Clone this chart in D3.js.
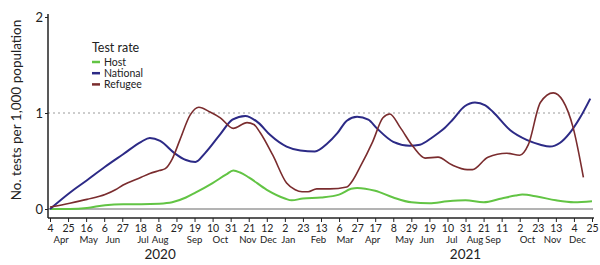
<!DOCTYPE html>
<html>
<head>
<meta charset="utf-8">
<script src="https://cdn.jsdelivr.net/npm/d3@7"></script>
<style>
  html, body { margin: 0; padding: 0; background: #fff; }
  #chart { width: 600px; height: 265px; }
  text { font-family: Lato, "Open Sans", sans-serif; fill: #222; }
</style>
</head>
<body>
<div id="chart"></div>
<script>
"use strict";

const tickDates = [
  "2020-04-04", "2020-04-25", "2020-05-16", "2020-06-06", "2020-06-27",
  "2020-07-18", "2020-08-08", "2020-08-29", "2020-09-19", "2020-10-10",
  "2020-10-31", "2020-11-21", "2020-12-12", "2021-01-02", "2021-01-23",
  "2021-02-13", "2021-03-06", "2021-03-27", "2021-04-17", "2021-05-08",
  "2021-05-29", "2021-06-19", "2021-07-10", "2021-07-31", "2021-08-21",
  "2021-09-11", "2021-10-02", "2021-10-23", "2021-11-13", "2021-12-04",
  "2021-12-25",
];

// month label, and the date it sits under
const monthLabels = [
  ["Apr", "2020-04-17"], ["May", "2020-05-19"], ["Jun", "2020-06-16"],
  ["Jul", "2020-07-21"], ["Aug", "2020-08-10"], ["Sep", "2020-09-19"],
  ["Oct", "2020-10-19"], ["Nov", "2020-11-20"], ["Dec", "2020-12-14"],
  ["Jan", "2021-01-06"], ["Feb", "2021-02-10"], ["Mar", "2021-03-13"],
  ["Apr", "2021-04-14"], ["May", "2021-05-21"], ["Jun", "2021-06-16"],
  ["Jul", "2021-07-15"], ["Aug", "2021-08-11"], ["Sep", "2021-09-01"],
  ["Oct", "2021-10-11"], ["Nov", "2021-11-09"], ["Dec", "2021-12-08"],
];

const yearLabels = [["2020", "2020-08-10"], ["2021", "2021-07-31"]];

const yTicks = [0, 1, 2];

const nationalDates = [
  "2020-04-04", "2020-04-27", "2020-05-17", "2020-06-07", "2020-06-28",
  "2020-07-19", "2020-07-29", "2020-08-10", "2020-08-27", "2020-09-09",
  "2020-09-20", "2020-10-01", "2020-10-19", "2020-11-02", "2020-11-17",
  "2020-12-02", "2020-12-16", "2021-01-04", "2021-01-20", "2021-02-06",
  "2021-02-20", "2021-03-04", "2021-03-15", "2021-03-27", "2021-04-09",
  "2021-04-19", "2021-05-08", "2021-05-27", "2021-06-08", "2021-06-23",
  "2021-07-05", "2021-07-16", "2021-07-30", "2021-08-11", "2021-08-23",
  "2021-09-01", "2021-09-21", "2021-10-10", "2021-10-26", "2021-11-06",
  "2021-11-18", "2021-11-29", "2021-12-11", "2021-12-23",
];
const nationalValues = [
  0.0, 0.17, 0.3, 0.44, 0.57,
  0.7, 0.74, 0.71, 0.58, 0.51,
  0.49, 0.58, 0.78, 0.93, 0.97,
  0.9, 0.77, 0.65, 0.61, 0.6,
  0.68, 0.79, 0.92, 0.96, 0.93,
  0.84, 0.7, 0.66, 0.67, 0.75,
  0.83, 0.93, 1.07, 1.11, 1.08,
  1.01, 0.82, 0.72, 0.67, 0.65,
  0.69, 0.79, 0.95, 1.15,
];

const refugeeDates = [
  "2020-04-04", "2020-04-27", "2020-05-17", "2020-06-07", "2020-06-19",
  "2020-06-28", "2020-07-19", "2020-07-29", "2020-08-09", "2020-08-16",
  "2020-08-24", "2020-09-02", "2020-09-14", "2020-09-24", "2020-10-07",
  "2020-10-19", "2020-11-03", "2020-11-19", "2020-11-27", "2020-12-04",
  "2020-12-19", "2021-01-04", "2021-01-14", "2021-01-22", "2021-01-29",
  "2021-02-08", "2021-02-23", "2021-03-15", "2021-03-22", "2021-03-30",
  "2021-04-14", "2021-04-26", "2021-05-04", "2021-05-16", "2021-05-31",
  "2021-06-14", "2021-06-29", "2021-07-15", "2021-08-02", "2021-08-08",
  "2021-08-26", "2021-09-17", "2021-10-02", "2021-10-12", "2021-10-26",
  "2021-11-10", "2021-11-21", "2021-12-03", "2021-12-15",
];
const refugeeValues = [
  0.02, 0.06, 0.1, 0.15, 0.2,
  0.25, 0.33, 0.37, 0.4, 0.42,
  0.52, 0.72, 0.98, 1.06, 1.01,
  0.95, 0.84, 0.9, 0.88, 0.8,
  0.56, 0.27, 0.2, 0.18, 0.18,
  0.21, 0.21, 0.23, 0.3, 0.43,
  0.7, 0.95, 0.99, 0.85, 0.65,
  0.53, 0.54, 0.46, 0.41, 0.41,
  0.54, 0.58, 0.56, 0.67, 1.11,
  1.21, 1.13, 0.85, 0.33,
];

const hostDates = [
  "2020-04-04", "2020-04-27", "2020-05-17", "2020-06-07", "2020-06-28",
  "2020-07-19", "2020-08-09", "2020-08-24", "2020-09-09", "2020-09-20",
  "2020-10-10", "2020-10-26", "2020-11-03", "2020-11-11", "2020-11-21",
  "2020-12-12", "2021-01-02", "2021-01-10", "2021-01-23", "2021-02-13",
  "2021-03-06", "2021-03-20", "2021-03-27", "2021-04-17", "2021-05-08",
  "2021-05-29", "2021-06-19", "2021-07-10", "2021-07-31", "2021-08-21",
  "2021-09-11", "2021-09-27", "2021-10-05", "2021-10-22", "2021-11-13",
  "2021-12-04", "2021-12-25",
];
const hostValues = [
  0.0, 0.0, 0.01, 0.04, 0.05,
  0.05, 0.055, 0.07, 0.12, 0.17,
  0.27, 0.36, 0.4, 0.38, 0.33,
  0.2, 0.11, 0.09, 0.11, 0.12,
  0.15, 0.21, 0.22, 0.19, 0.12,
  0.07, 0.06, 0.08, 0.09, 0.07,
  0.11, 0.14, 0.15, 0.13, 0.09,
  0.07, 0.08,
];

const seriesNames = ["Host", "National", "Refugee"];
const seriesColors = ["#62c444", "#2c2a86", "#7a2c2e"];

const parse = d3.timeParse("%Y-%m-%d");

function draw() {
  const w = 600;
  const h = 265;

  const svg = d3
    .select("#chart")
    .append("svg")
    .attr("width", w)
    .attr("height", h);

  const x = d3
    .scaleTime()
    .domain([parse(tickDates[0]), parse(tickDates[tickDates.length - 1])])
    .range([50, 592]);
  const y = d3.scaleLinear().domain([0, 2]).range([209, 17]);

  const axisY = 218;
  const axisX = 48;

  // reference lines at 0 and 1
  svg
    .append("line")
    .attr("x1", axisX)
    .attr("x2", 593)
    .attr("y1", y(0))
    .attr("y2", y(0))
    .attr("stroke", "#9a9a9a")
    .attr("stroke-width", 1.5);
  svg
    .append("line")
    .attr("x1", axisX)
    .attr("x2", 593)
    .attr("y1", y(1))
    .attr("y2", y(1))
    .attr("stroke", "#9a9a9a")
    .attr("stroke-width", 1)
    .attr("stroke-dasharray", "2,3");

  // y axis
  const gy = svg
    .append("g")
    .attr("transform", `translate(${axisX},0)`)
    .call(d3.axisLeft(y).tickValues(yTicks).tickSize(3).tickFormat(d3.format("d")));
  gy.select(".domain").remove();
  gy.append("line")
    .attr("x1", 0)
    .attr("x2", 0)
    .attr("y1", 14)
    .attr("y2", axisY)
    .attr("stroke", "#222")
    .attr("stroke-width", 1.5);
  gy.selectAll(".tick line").attr("stroke", "#222");
  gy.selectAll(".tick text")
    .attr("x", -5)
    .style("font-size", "13px")
    .style("font-family", "Lato, sans-serif")
    .attr("fill", "#222");

  // x axis
  const gx = svg
    .append("g")
    .attr("transform", `translate(0,${axisY})`)
    .call(
      d3
        .axisBottom(x)
        .tickValues(tickDates.map(parse))
        .tickSize(4)
        .tickFormat(d3.timeFormat("%-d"))
    );
  gx.select(".domain").remove();
  gx.append("line")
    .attr("x1", axisX)
    .attr("x2", 594)
    .attr("stroke", "#222")
    .attr("stroke-width", 1.5);
  gx.selectAll(".tick line").attr("stroke", "#222");
  gx.selectAll(".tick text")
    .attr("y", 7)
    .style("font-size", "10.5px")
    .style("font-family", "Lato, sans-serif")
    .attr("fill", "#222");

  svg
    .append("g")
    .selectAll("text")
    .data(monthLabels)
    .enter()
    .append("text")
    .attr("x", (d) => x(parse(d[1])))
    .attr("y", 243)
    .attr("text-anchor", "middle")
    .style("font-size", "9.6px")
    .text((d) => d[0]);

  svg
    .append("g")
    .selectAll("text")
    .data(yearLabels)
    .enter()
    .append("text")
    .attr("x", (d) => x(parse(d[1])))
    .attr("y", 259)
    .attr("text-anchor", "middle")
    .style("font-size", "13.5px")
    .text((d) => d[0]);

  svg
    .append("text")
    .attr("transform", "translate(21,110) rotate(-90)")
    .attr("text-anchor", "middle")
    .style("font-size", "13.5px")
    .text("No. tests per 1,000 population");

  // lines
  const line = d3
    .line()
    .x((d) => x(d[0]))
    .y((d) => y(d[1]))
    .curve(d3.curveMonotoneX);

  const series = [
    { dates: hostDates, values: hostValues },
    { dates: nationalDates, values: nationalValues },
    { dates: refugeeDates, values: refugeeValues },
  ];

  svg
    .append("g")
    .selectAll("path")
    .data(series)
    .enter()
    .append("path")
    .attr("fill", "none")
    .attr("stroke", (d, i) => seriesColors[i])
    .attr("stroke-width", (d, i) => (i === 2 ? 1.6 : 2))
    .attr("d", (d) => line(d.dates.map((s, i) => [parse(s), d.values[i]])));

  // legend
  const legend = svg.append("g").attr("transform", "translate(92,0)");
  legend
    .append("text")
    .attr("x", 0)
    .attr("y", 52)
    .style("font-size", "12.5px")
    .text("Test rate");
  const item = legend
    .selectAll("g")
    .data(seriesNames)
    .enter()
    .append("g")
    .attr("transform", (d, i) => `translate(0,${62 + i * 11.2})`);
  item
    .append("line")
    .attr("x1", 0)
    .attr("x2", 8)
    .attr("stroke", (d, i) => seriesColors[i])
    .attr("stroke-width", 2.5);
  item
    .append("text")
    .attr("x", 12)
    .attr("y", 3.5)
    .style("font-size", "10.5px")
    .text((d) => d);
}

draw();
</script>
</body>
</html>
